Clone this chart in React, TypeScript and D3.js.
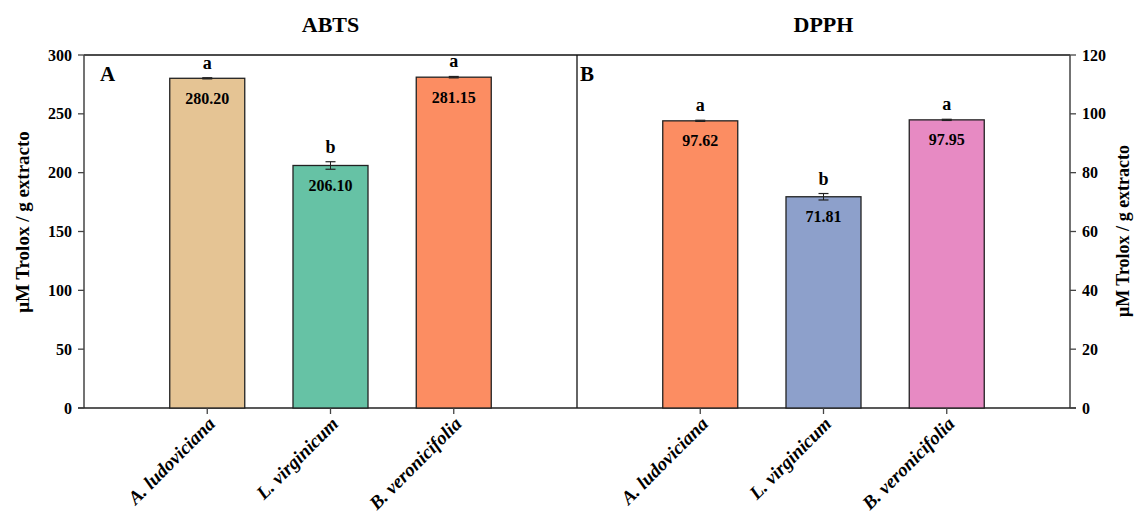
import React from 'react';
import * as d3 from 'd3';

const species = ['A. ludoviciana', 'L. virginicum', 'B. veronicifolia'];

const abtsValues = [280.2, 206.1, 281.15];
const abtsErrors = [0.5, 3.2, 0.6];
const abtsLetters = ['a', 'b', 'a'];
const abtsColors = ['#e5c494', '#66c2a5', '#fc8d62'];
const abtsTicks = [0, 50, 100, 150, 200, 250, 300];

const dpphValues = [97.62, 71.81, 97.95];
const dpphErrors = [0.2, 1.1, 0.2];
const dpphLetters = ['a', 'b', 'a'];
const dpphColors = ['#fc8d62', '#8da0cb', '#e78ac3'];
const dpphTicks = [0, 20, 40, 60, 80, 100, 120];

const W = 1135;
const H = 516;
const top = 55;
const bottom = 408;
const serif = '"Liberation Serif", "Times New Roman", serif';
const axisColor = '#444';

function Panel({ x0, x1, title, letter, letterDx, values, errors, letters, colors, ticks, side }) {
  const x = d3.scaleLinear().domain([0, 4]).range([x0, x1]);
  const y = d3.scaleLinear().domain([0, ticks[ticks.length - 1]]).range([bottom, top]);
  const bw = 75;
  const axisX = side === 'left' ? x0 : x1;
  const tickDir = side === 'left' ? -1 : 1;
  return (
    <g>
      <text x={(x0 + x1) / 2} y={32} textAnchor="middle" fontFamily={serif} fontWeight="bold" fontSize={22}>{title}</text>
      {/* frame */}
      <line x1={x0} x2={x1} y1={top} y2={top} stroke="#111" strokeWidth={1.3} />
      {side === 'left' && <line x1={x1} x2={x1} y1={top} y2={bottom} stroke="#111" strokeWidth={1.3} />}
      <line x1={axisX} x2={axisX} y1={top} y2={bottom} stroke={axisColor} strokeWidth={1.5} />
      <line x1={side === 'left' ? x0 - 6 : x0} x2={side === 'left' ? x1 : x1 + 6} y1={bottom} y2={bottom} stroke="#222" strokeWidth={1.5} />
      {ticks.map((t) => (
        <g key={t}>
          <line x1={axisX} x2={axisX + tickDir * 6} y1={y(t)} y2={y(t)} stroke={axisColor} strokeWidth={1.3} />
          <text x={axisX + tickDir * 12} y={y(t)} dy="0.35em" textAnchor={side === 'left' ? 'end' : 'start'}
            fontFamily={serif} fontWeight="bold" fontSize={16}>{t}</text>
        </g>
      ))}
      <text x={x0 + letterDx} y={81} fontFamily={serif} fontWeight="bold" fontSize={21}>{letter}</text>
      {values.map((v, i) => {
        const cx = x(i + 1);
        const eTop = y(v + errors[i]);
        const eBot = y(v - errors[i]);
        return (
          <g key={i}>
            <rect x={cx - bw / 2} y={y(v)} width={bw} height={bottom - y(v)} fill={colors[i]} stroke="#222" strokeWidth={1.3} />
            <line x1={cx} x2={cx} y1={eTop} y2={eBot} stroke="#222" strokeWidth={1} />
            <line x1={cx - 5} x2={cx + 5} y1={eTop} y2={eTop} stroke="#222" strokeWidth={1.2} />
            <line x1={cx - 5} x2={cx + 5} y1={eBot} y2={eBot} stroke="#222" strokeWidth={1.2} />
            <text x={cx} y={eTop - 9} textAnchor="middle" fontFamily={serif} fontWeight="bold" fontSize={18}>{letters[i]}</text>
            <text x={cx} y={y(v) + 20} dy="0.35em" textAnchor="middle" fontFamily={serif} fontWeight="bold" fontSize={16}>{v.toFixed(2)}</text>
            <line x1={cx} x2={cx} y1={bottom} y2={bottom + 6} stroke={axisColor} strokeWidth={1.3} />
            <text transform={`translate(${cx + 9},${bottom + 17}) rotate(-45)`} textAnchor="end"
              fontFamily={serif} fontWeight="bold" fontStyle="italic" fontSize={19}>{species[i]}</text>
          </g>
        );
      })}
    </g>
  );
}

export default function App() {
  return (
    <svg width={W} height={H} style={{ position: 'absolute', left: 0, top: 0, background: '#fff' }}>
      <rect width={W} height={H} fill="#fff" />
      <text transform="translate(29,222) rotate(-90)" textAnchor="middle"
        fontFamily={serif} fontWeight="bold" fontSize={19}>μM Trolox / g extracto</text>
      <text transform="translate(1129,231) rotate(-90)" textAnchor="middle"
        fontFamily={serif} fontWeight="bold" fontSize={18}>μM Trolox / g extracto</text>
      <Panel x0={84} x1={577} title="ABTS" letter="A" letterDx={16} values={abtsValues} errors={abtsErrors}
        letters={abtsLetters} colors={abtsColors} ticks={abtsTicks} side="left" />
      <Panel x0={577} x1={1070} title="DPPH" letter="B" letterDx={3} values={dpphValues} errors={dpphErrors}
        letters={dpphLetters} colors={dpphColors} ticks={dpphTicks} side="right" />
    </svg>
  );
}
